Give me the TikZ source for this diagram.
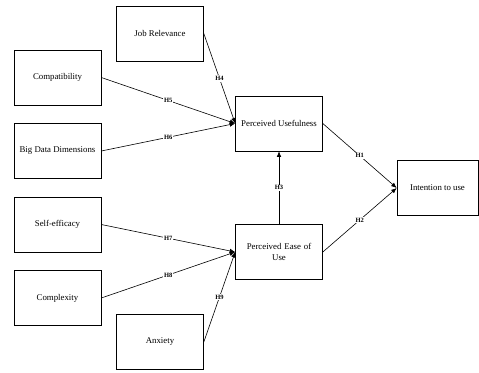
\documentclass[tikz,border=0pt]{standalone}
\usepackage{fontspec}
\setmainfont{Liberation Serif}
\usepackage{xcolor}
\usetikzlibrary{arrows.meta}

\tikzset{
  construct/.style={draw,line width=0.6pt,minimum width=87pt,minimum height=55pt,inner sep=1pt,
    align=center,font=\fontsize{8.8}{10.5}\selectfont},
  link/.style={draw,line width=0.6pt,-{Latex[length=5.5pt,width=4.5pt]}},
  hyp/.style={fill=white,inner sep=1pt,font=\bfseries\fontsize{6.5}{7.5}\selectfont}
}

\begin{document}
\begin{tikzpicture}[x=1pt,y=-1pt]
\useasboundingbox (0,0) rectangle (479,372);
% constructs
\node[construct] (jr) at (160,33.5) {Job Relevance};
\node[construct] (comp) at (57.5,77.5) {Compatibility};
\node[construct] (bdd) at (57.5,151) {Big Data Dimensions};
\node[construct] (pu) at (279,123.5) {Perceived Usefulness};
\node[construct,minimum width=81pt] (itu) at (437.5,188) {Intention to use};
\node[construct,text width=80pt] (peu) at (279,252) {Perceived Ease of\\Use};
\node[construct] (se) at (57.5,224.5) {Self-efficacy};
\node[construct] (cx) at (57.5,298) {Complexity};
\node[construct] (anx) at (160,342) {Anxiety};
% hypotheses
\draw[link] (pu.east) -- node[hyp] {H1} (itu.west);
\draw[link] (peu.east) -- node[hyp] {H2} (itu.west);
\draw[link] (peu.north) -- node[hyp] {H3} (pu.south);
\draw[link] (jr.east) -- node[hyp] {H4} (pu.west);
\draw[link] (comp.east) -- node[hyp] {H5} (pu.west);
\draw[link] (bdd.east) -- node[hyp] {H6} (pu.west);
\draw[link] (se.east) -- node[hyp] {H7} (peu.west);
\draw[link] (cx.east) -- node[hyp] {H8} (peu.west);
\draw[link] (anx.east) -- node[hyp] {H9} (peu.west);
\end{tikzpicture}
\end{document}
